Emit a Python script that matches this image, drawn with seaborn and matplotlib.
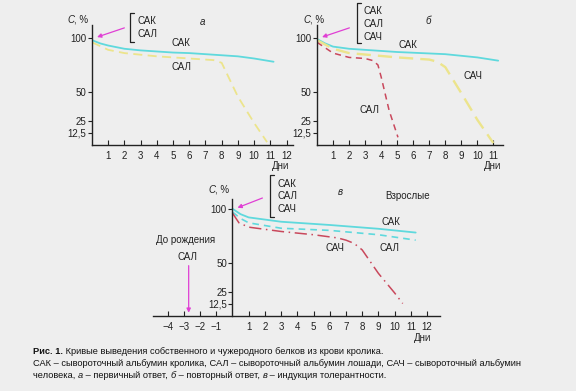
import numpy as np
import matplotlib
matplotlib.use('Agg')
import matplotlib.pyplot as plt
from matplotlib.lines import Line2D
import seaborn as sns

# Panel а
a_sak_days = [0, 0.5, 1, 2, 3, 4, 5, 6, 7, 8, 9, 10, 11.2]
a_sak = [98, 95, 93, 90, 88.5, 87.5, 86.5, 86, 85, 84, 83, 81, 78]
a_sal_days = [0, 1, 2, 4, 6, 7.5, 8, 9, 10, 10.8]
a_sal = [96, 89, 86, 83, 81, 79.5, 77, 46, 23, 3]

# Panel б
b_sak_days = [0, 0.5, 1, 2, 3, 5, 8, 10, 11.3]
b_sak = [99, 95, 92, 90, 89, 87, 85, 82, 79]
b_sal_days = [0, 0.5, 1, 2, 3, 3.5, 3.8, 4, 4.5, 5.05]
b_sal = [96, 91, 86, 82, 81, 79, 75, 64, 34, 8]
b_sach_days = [0, 1, 2, 5, 7, 7.5, 8, 9, 10, 11]
b_sach = [98, 90, 86, 82, 80, 78, 73, 49, 26, 2]

# Panel в
v_sak_days = [0, 0.5, 1, 3, 6, 9, 11.3]
v_sak = [100, 95, 92, 88, 85, 81.5, 78]
v_sal_days = [0, 0.5, 1, 3, 6, 9, 11.3]
v_sal = [97, 91, 87, 82, 80, 76, 71]
v_sach_days = [0, 0.4, 1, 3, 5, 6.5, 7, 7.5, 8, 9, 10, 10.5]
v_sach = [96, 87, 83, 79, 76, 73, 71, 68, 62, 41, 24, 13]

y_ticks = [12.5, 25, 50, 100]
y_labels = ['12,5', '25', '50', '100']

# uneven vertical axis of the original
knot_val = [0, 12.5, 25, 50, 100, 150]
knot_pos = [0, 12, 24, 53, 107, 161]
def fwd(v):
    return np.interp(v, knot_val, knot_pos)
def inv(p):
    return np.interp(p, knot_pos, knot_val)

W, H = 576, 391
def fx(x):
    return x / W
def fy(y):
    return 1 - y / H

sns.set_style('ticks')
plt.rcParams['font.family'] = ['Liberation Sans', 'DejaVu Sans']
bg = '#eeeeee'
cyan = '#5fd9dd'
yellow = '#ece48c'
red = '#c9485c'
magenta = '#e03fd4'
ink = '#222222'
fs = 7
cap_fs = 6.7

fig = plt.figure(figsize=(5.76, 3.91), dpi=100, facecolor=bg)

def make_ax(left, right, bottom, top, xlim, ytop):
    ax = fig.add_axes([fx(left), fy(bottom), fx(right) - fx(left), (bottom - top) / H])
    ax.set_facecolor(bg)
    ax.set_yscale('function', functions=(fwd, inv))
    ax.set_xlim(*xlim)
    ax.set_ylim(0, ytop)
    ax.set_yticks(y_ticks)
    ax.set_yticklabels(y_labels)
    for s in ['top', 'right']:
        ax.spines[s].set_visible(False)
    for s in ['left', 'bottom']:
        ax.spines[s].set_color(ink)
        ax.spines[s].set_linewidth(1.0)
    ax.tick_params(axis='x', direction='in', length=3.5, width=0.8, colors=ink, labelsize=fs, pad=4)
    ax.tick_params(axis='y', direction='out', length=3, width=0.8, colors=ink, labelsize=fs, pad=1)
    return ax

ax_a = make_ax(92, 293, 145, 25, (0, 12.4), 112)
ax_b = make_ax(317, 503, 145, 25, (0, 11.6), 112)
ax_v = make_ax(153, 440, 316, 199, (-4.9, 12.8), 109)
ax_v.spines['left'].set_position(('data', 0))

ax_a.set_xticks(range(1, 13))
ax_b.set_xticks(range(1, 12))
v_xt = [-4, -3, -2, -1] + list(range(1, 13))
ax_v.set_xticks(v_xt)
ax_v.set_xticklabels([str(t).replace('-', '\u2212') for t in v_xt])

sns.lineplot(x=a_sak_days, y=a_sak, ax=ax_a, color=cyan, linewidth=1.3)
sns.lineplot(x=a_sal_days, y=a_sal, ax=ax_a, color=yellow, linewidth=1.3, linestyle=(0, (5, 3)))

sns.lineplot(x=b_sak_days, y=b_sak, ax=ax_b, color=cyan, linewidth=1.3)
sns.lineplot(x=b_sach_days, y=b_sach, ax=ax_b, color=yellow, linewidth=1.7, linestyle=(0, (6, 3)))
sns.lineplot(x=b_sal_days, y=b_sal, ax=ax_b, color=red, linewidth=1.1, linestyle=(0, (4, 3)))

sns.lineplot(x=v_sak_days, y=v_sak, ax=ax_v, color=cyan, linewidth=1.3)
sns.lineplot(x=v_sal_days, y=v_sal, ax=ax_v, color=cyan, linewidth=1.2, linestyle=(0, (4, 3)))
sns.lineplot(x=v_sach_days, y=v_sach, ax=ax_v, color=red, linewidth=1.1, linestyle=(0, (8, 3, 1, 3)))

for ax in [ax_a, ax_b, ax_v]:
    ax.set_xlabel('')
    ax.set_ylabel('')

def txt(x, y, s, **kw):
    kw.setdefault('ha', 'center')
    kw.setdefault('va', 'center')
    kw.setdefault('fontsize', fs)
    kw.setdefault('color', ink)
    return fig.text(fx(x), fy(y), s, **kw)

def bracket(x, y0, y1, labels, ys):
    fig.add_artist(Line2D([fx(x + 4), fx(x), fx(x), fx(x + 4)], [fy(y0), fy(y0), fy(y1), fy(y1)],
                          color=ink, lw=0.9))
    for lab, yy in zip(labels, ys):
        txt(x + 7, yy, lab, ha='left')

def c_label(x, y):
    txt(x, y, 'С', ha='right', style='italic')
    txt(x, y, ', %', ha='left')

arrow = dict(arrowstyle='-|>', color=magenta, lw=0.9, mutation_scale=6)

# panel а texts
c_label(74, 20)
txt(202, 22, 'а', style='italic')
bracket(130, 13, 42, ['САК', 'САЛ'], [21, 34])
txt(181, 43, 'САК')
txt(181, 67, 'САЛ')
txt(281, 166, 'Дни')
ax_a.annotate('', xy=(0.15, 100), xycoords='data', xytext=(fx(127), fy(27)),
              textcoords='figure fraction', arrowprops=arrow)

# panel б texts
c_label(310, 20)
txt(428, 21, 'б', style='italic')
bracket(357, 3, 43, ['САК', 'САЛ', 'САЧ'], [11, 24, 37])
txt(408, 45, 'САК')
txt(473, 76, 'САЧ')
txt(370, 110, 'САЛ')
txt(493, 166, 'Дни')
ax_b.annotate('', xy=(0.15, 100), xycoords='data', xytext=(fx(352), fy(27)),
              textcoords='figure fraction', arrowprops=arrow)

# panel в texts
c_label(215, 190)
txt(340, 192, 'в', style='italic')
txt(408, 196, 'Взрослые')
bracket(270, 175, 217, ['САК', 'САЛ', 'САЧ'], [184, 196, 209])
txt(391, 222, 'САК')
txt(390, 248, 'САЛ')
txt(335, 248, 'САЧ')
txt(186, 240, 'До рождения')
txt(187, 257, 'САЛ')
txt(423, 338, 'Дни')
ax_v.annotate('', xy=(0.15, 100), xycoords='data', xytext=(fx(265), fy(197)),
              textcoords='figure fraction', arrowprops=arrow)
ax_v.annotate('', xy=(-2.7, 0.5), xycoords='data', xytext=(-2.7, 50), textcoords='data',
              arrowprops=arrow)

# caption, written piece by piece so bold / italic parts follow each other
def run(x, y, parts):
    for s, kw in parts:
        t = txt(x, y, s, ha='left', fontsize=cap_fs, color='#111111', **kw)
        fig.canvas.draw()
        x = t.get_window_extent().x1

run(33, 352, [('Рис. 1.', dict(fontweight='bold')),
              (' Кривые выведения собственного и чужеродного белков из крови кролика.', {})])
run(33, 364, [('САК – сывороточный альбумин кролика, САЛ – сывороточный альбумин лошади, '
               'САЧ – сывороточный альбумин', {})])
run(33, 375, [('человека, ', {}), ('а', dict(style='italic')),
              (' – первичный ответ, ', {}), ('б', dict(style='italic')),
              (' – повторный ответ, ', {}), ('в', dict(style='italic')),
              (' – индукция толерантности.', {})])

fig.savefig('out.png', dpi=100, facecolor=bg)
